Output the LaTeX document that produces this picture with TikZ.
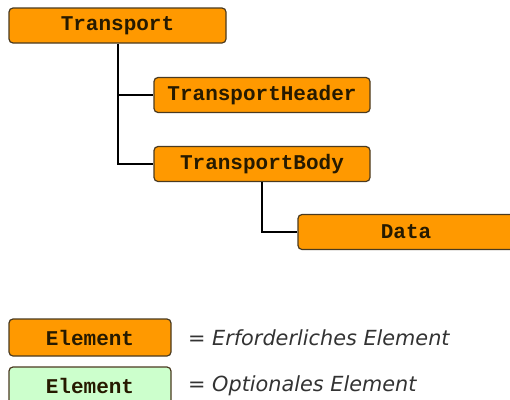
\documentclass[tikz,border=0pt]{standalone}
\usepackage{fontspec}
\setmonofont{Liberation Mono}
\setsansfont{DejaVu Sans}
\usetikzlibrary{positioning}
\definecolor{reqorange}{HTML}{FF9900}
\definecolor{optgreen}{HTML}{CCFFCC}
\definecolor{boxline}{HTML}{4A3A20}
\definecolor{legtext}{HTML}{333333}
\definecolor{elemtext}{HTML}{261A00}
\tikzset{
  elem/.style={draw=boxline, line width=1.2pt, rounded corners=4pt, fill=reqorange,
    minimum width=216pt, minimum height=35pt, inner sep=0pt, text=elemtext,
    font=\fontsize{21}{24}\selectfont\ttfamily\bfseries},
  legbox/.style={elem, minimum width=162pt, minimum height=37pt},
  legtxt/.style={anchor=west, inner sep=0pt, text=legtext,
    font=\fontsize{20.8}{24}\selectfont\sffamily\itshape},
  tree/.style={line width=2pt}
}
\begin{document}
\begin{tikzpicture}[x=1pt,y=-1pt]
        \useasboundingbox (0,0) rectangle (510,399);
        % elements
        \node[elem, minimum width=217pt] (transport) at (117.5,25.5) {Transport};
        \node[elem] (header) at (262,95) {TransportHeader};
        \node[elem] (body) at (262,164) {TransportBody};
        \node[elem] (data) at (406,232) {Data};
        % tree lines
        \draw[tree] (transport.south) |- (body.west);
        \draw[tree] (transport.south |- header.west) -- (header.west);
        \draw[tree] (body.south) |- (data.west);
        % legend
        \node[legbox] (legreq) at (90,337.5) {Element};
        \node[legbox, fill=optgreen] (legopt) at (90,385.5) {Element};
        \node[legtxt] (reqtxt) at (188,338) {= Erforderliches Element};
        \node[legtxt] (opttxt) at (188,386) {= Optionales Element};
\end{tikzpicture}
\end{document}
